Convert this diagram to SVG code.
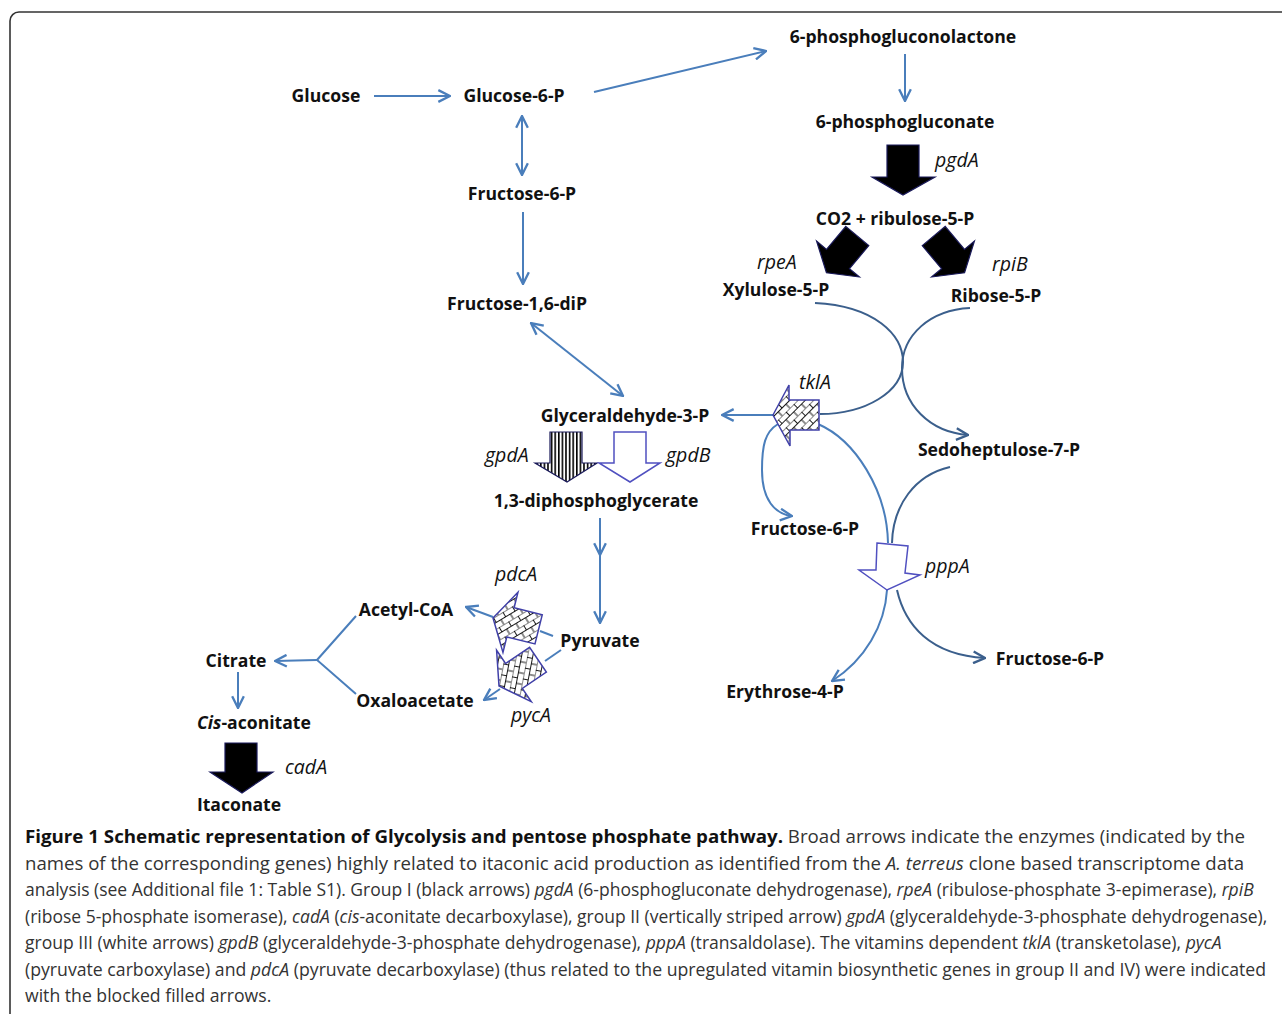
<svg xmlns="http://www.w3.org/2000/svg" width="1282" height="1014" viewBox="0 0 1282 1014">
<defs>
<style>
.lbl{font-family:"Open Sans","Liberation Sans",sans-serif;font-weight:700;font-size:17.6px;fill:#111;text-anchor:middle}
.gene{font-family:"Open Sans","Liberation Sans",sans-serif;font-style:italic;font-size:19.5px;fill:#111}
.cap{font-family:"Open Sans","Liberation Sans",sans-serif;font-size:18px;fill:#333}
.capb{font-weight:700;fill:#111}
.it{font-style:italic}
.conn{fill:none;stroke:#4a7ebb;stroke-width:2}
.dark{fill:none;stroke:#3b5f8c;stroke-width:2}
.black{fill:#000;stroke:#1a1a5a;stroke-width:1.2}
.white{fill:#fff;stroke:#5050c0;stroke-width:1.5}
.hatch{fill:url(#brick);stroke:#4040a8;stroke-width:1.5}
</style>
<marker id="ah" markerUnits="userSpaceOnUse" markerWidth="14" markerHeight="14" viewBox="0 0 12 12" refX="11" refY="6" orient="auto-start-reverse">
<path d="M1,1 L11,6 L1,11" fill="none" stroke="#4a7ebb" stroke-width="2"/>
</marker>
<marker id="ahd" markerUnits="userSpaceOnUse" markerWidth="14" markerHeight="14" viewBox="0 0 12 12" refX="11" refY="6" orient="auto">
<path d="M1,1 L11,6 L1,11" fill="none" stroke="#3b5f8c" stroke-width="2"/>
</marker>
<pattern id="brick" patternUnits="userSpaceOnUse" width="11" height="11" patternTransform="rotate(-45)">
<rect width="11" height="11" fill="#fff"/>
<path d="M0,0H11M0,5.5H11M0.5,0V5.5M6,5.5V11" stroke="#000" stroke-width="0.9" fill="none"/>
</pattern>
<pattern id="vstripe" patternUnits="userSpaceOnUse" width="3.6" height="10">
<rect width="3.6" height="10" fill="#fff"/>
<rect width="1.6" height="10" fill="#000"/>
</pattern>
<path id="blockL" d="M0,0 L18,-31 L18,-15 L47,-15 L47,15 L18,15 L18,31 Z"/>
<path id="blockD" d="M-15,-30 L15,-30 L15,0 L28,0 L0,18 L-28,0 L-15,0 Z"/>
</defs>

<rect x="10" y="12" width="1320" height="1100" rx="9" fill="#fff" stroke="#333" stroke-width="1.6"/>

<g id="connectors">
<line class="conn" x1="374" y1="96" x2="450" y2="96" marker-end="url(#ah)"/>
<line class="conn" x1="594" y1="92" x2="766" y2="51" marker-end="url(#ah)"/>
<line class="conn" x1="905" y1="54" x2="905" y2="101" marker-end="url(#ah)"/>
<line class="conn" x1="522" y1="116" x2="522" y2="175" marker-start="url(#ah)" marker-end="url(#ah)"/>
<line class="conn" x1="523" y1="212" x2="523" y2="284" marker-end="url(#ah)"/>
<line class="conn" x1="531" y1="323" x2="623" y2="396" marker-start="url(#ah)" marker-end="url(#ah)"/>
<line class="conn" x1="774" y1="415" x2="722" y2="415" marker-end="url(#ah)"/>
<line class="conn" x1="600" y1="518" x2="600" y2="555" marker-end="url(#ah)"/>
<line class="conn" x1="600" y1="555" x2="600" y2="623" marker-end="url(#ah)"/>
<line class="conn" x1="553" y1="636" x2="540" y2="631"/>
<line class="conn" x1="493" y1="617" x2="466" y2="607" marker-end="url(#ah)"/>
<line class="conn" x1="561" y1="650" x2="545" y2="661"/>
<line class="conn" x1="500" y1="689" x2="484" y2="700" marker-end="url(#ah)"/>
<polyline class="conn" points="356,616 317,660 356,694"/>
<line class="conn" x1="317" y1="660" x2="275" y2="661" marker-end="url(#ah)"/>
<line class="conn" x1="238" y1="672" x2="238" y2="708" marker-end="url(#ah)"/>
<path class="dark" d="M815,303 C875,306 903,335 903,362 C903,392 865,414 820,414"/>
<path class="dark" d="M970,308 C930,310 902,335 902,368 C902,405 930,432 968,435" marker-end="url(#ahd)"/>
<path class="conn" d="M778,424 C765,432 762,445 762,470 C762,500 775,514 792,516" marker-end="url(#ah)"/>
<path class="conn" d="M818,424 C855,440 887,490 888,543"/>
<path class="dark" d="M950,467 C915,475 893,505 892,543"/>
<path class="conn" d="M887,590 C885,625 865,660 832,681" marker-end="url(#ah)"/>
<path class="dark" d="M897,590 C905,625 930,655 985,658" marker-end="url(#ahd)"/>
</g>

<g id="enzyme-arrows">
<g id="pgdA-arrow"><path class="black" d="M887,145 L919,145 L919,177 L935,177 L903,195 L872,177 L887,177 Z"/></g>
<g id="rpeA-arrow"><use href="#blockD" class="black" transform="translate(838,259) rotate(40)"/></g>
<g id="rpiB-arrow"><use href="#blockD" class="black" transform="translate(953,259) rotate(-40)"/></g>
<g id="tklA-arrow"><path class="hatch" d="M773,415 L789,385 L789,400 L819,400 L819,430 L790,430 L790,446 Z"/></g>
<g id="gpdA-arrow"><path d="M550,432 L582,432 L582,463 L597,463 L567,482 L535,463 L550,463 Z" fill="url(#vstripe)" stroke="#1a1a5a" stroke-width="1.2"/></g>
<g id="gpdB-arrow"><path class="white" d="M614,432 L646,432 L646,463 L660,463 L630,482 L599,463 L614,463 Z"/></g>
<g id="pppA-arrow"><path class="white" d="M877,543 L908,546 L905,573 L920,575 L887,590 L859,570 L876,570 Z"/></g>
<g id="pdcA-arrow"><use href="#blockL" class="hatch" transform="translate(493,618) rotate(14)"/></g>
<g id="pycA-arrow"><use href="#blockL" class="hatch" transform="translate(499,686) rotate(-34)"/></g>
<g id="cadA-arrow"><path class="black" d="M225,743 L257,743 L257,772 L273,772 L242,793 L210,772 L225,772 Z"/></g>
</g>

<g id="nodes">
<g id="n-glucose"><text class="lbl" x="326" y="102">Glucose</text></g>
<g id="n-g6p"><text class="lbl" x="514" y="102">Glucose-6-P</text></g>
<g id="n-6pgl"><text class="lbl" x="903" y="43">6-phosphogluconolactone</text></g>
<g id="n-6pg"><text class="lbl" x="905" y="128">6-phosphogluconate</text></g>
<g id="n-f6p1"><text class="lbl" x="522" y="200">Fructose-6-P</text></g>
<g id="n-f16dp"><text class="lbl" x="517" y="310">Fructose-1,6-diP</text></g>
<g id="n-ru5p"><text class="lbl" x="895" y="225">CO2 + ribulose-5-P</text></g>
<g id="n-xu5p"><text class="lbl" x="776" y="296">Xylulose-5-P</text></g>
<g id="n-r5p"><text class="lbl" x="996" y="302">Ribose-5-P</text></g>
<g id="n-g3p"><text class="lbl" x="625" y="422">Glyceraldehyde-3-P</text></g>
<g id="n-s7p"><text class="lbl" x="999" y="456">Sedoheptulose-7-P</text></g>
<g id="n-13dpg"><text class="lbl" x="596" y="507">1,3-diphosphoglycerate</text></g>
<g id="n-f6p2"><text class="lbl" x="805" y="535">Fructose-6-P</text></g>
<g id="n-acoa"><text class="lbl" x="406" y="616">Acetyl-CoA</text></g>
<g id="n-pyr"><text class="lbl" x="600" y="647">Pyruvate</text></g>
<g id="n-cit"><text class="lbl" x="236" y="667">Citrate</text></g>
<g id="n-oaa"><text class="lbl" x="415" y="707">Oxaloacetate</text></g>
<g id="n-e4p"><text class="lbl" x="785" y="698">Erythrose-4-P</text></g>
<g id="n-f6p3"><text class="lbl" x="1050" y="665">Fructose-6-P</text></g>
<g id="n-cisacon"><text class="lbl" x="254" y="729"><tspan font-style="italic">Cis</tspan>-aconitate</text></g>
<g id="n-ita"><text class="lbl" x="239" y="811">Itaconate</text></g>
</g>

<g id="gene-labels">
<text class="gene" x="935" y="167">pgdA</text>
<text class="gene" x="757" y="269">rpeA</text>
<text class="gene" x="992" y="271">rpiB</text>
<text class="gene" x="799" y="389">tklA</text>
<text class="gene" x="485" y="462">gpdA</text>
<text class="gene" x="666" y="462">gpdB</text>
<text class="gene" x="925" y="573">pppA</text>
<text class="gene" x="495" y="581">pdcA</text>
<text class="gene" x="511" y="722">pycA</text>
<text class="gene" x="285" y="774">cadA</text>
</g>

<g id="caption">
<text class="cap" transform="translate(25,843) scale(1.04,1)"><tspan class="capb">Figure 1 Schematic representation of Glycolysis and pentose phosphate pathway.</tspan> Broad arrows indicate the enzymes (indicated by the</text>
<text class="cap" transform="translate(25,870) scale(1.035,1)">names of the corresponding genes) highly related to itaconic acid production as identified from the <tspan class="it">A. terreus</tspan> clone based transcriptome data</text>
<text class="cap" transform="translate(25,896) scale(0.973,1)">analysis (see Additional file 1: Table S1). Group I (black arrows) <tspan class="it">pgdA</tspan> (6-phosphogluconate dehydrogenase), <tspan class="it">rpeA</tspan> (ribulose-phosphate 3-epimerase), <tspan class="it">rpiB</tspan></text>
<text class="cap" transform="translate(25,923) scale(0.973,1)">(ribose 5-phosphate isomerase), <tspan class="it">cadA</tspan> (<tspan class="it">cis</tspan>-aconitate decarboxylase), group II (vertically striped arrow) <tspan class="it">gpdA</tspan> (glyceraldehyde-3-phosphate dehydrogenase),</text>
<text class="cap" transform="translate(25,949) scale(0.975,1)">group III (white arrows) <tspan class="it">gpdB</tspan> (glyceraldehyde-3-phosphate dehydrogenase), <tspan class="it">pppA</tspan> (transaldolase). The vitamins dependent <tspan class="it">tklA</tspan> (transketolase), <tspan class="it">pycA</tspan></text>
<text class="cap" transform="translate(25,976) scale(0.982,1)">(pyruvate carboxylase) and <tspan class="it">pdcA</tspan> (pyruvate decarboxylase) (thus related to the upregulated vitamin biosynthetic genes in group II and IV) were indicated</text>
<text class="cap" transform="translate(25,1002) scale(0.98,1)">with the blocked filled arrows.</text>
</g>
</svg>
